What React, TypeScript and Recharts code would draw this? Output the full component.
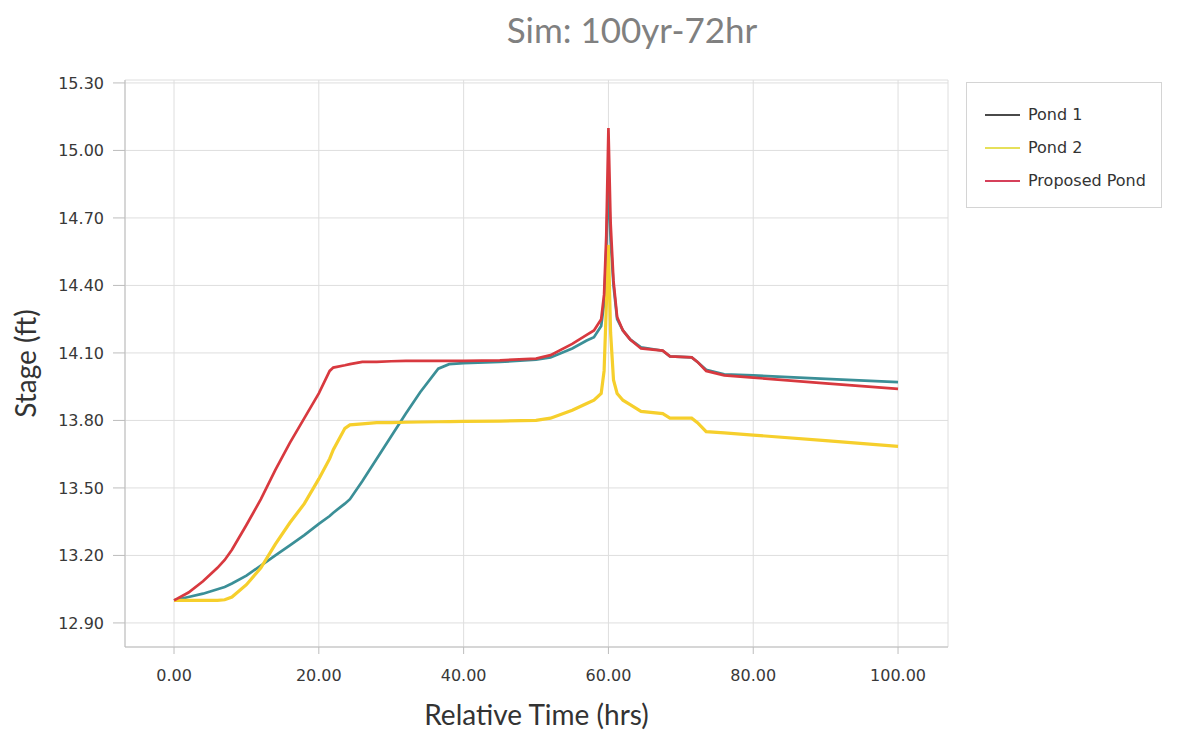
import React from "react";
import { LineChart, Line, XAxis, YAxis, CartesianGrid, Legend } from "recharts";

const TIME_HRS = [
  0, 2, 4, 6, 7, 8, 10, 12, 14, 16, 18, 20, 21.5, 22, 23.6, 24.3, 26, 28, 30, 32, 34, 36.5, 38, 40,
  45, 50, 52, 55, 57, 58, 59, 59.4, 59.7, 60, 60.3, 60.7, 61.2, 62, 63, 64.5, 67.5, 68.5, 71.5, 72.3,
  73.5, 76, 80, 90, 100,
];

const POND_1 = [
  13.0, 13.015, 13.03, 13.05, 13.06, 13.075,
  13.11, 13.155, 13.2, 13.245, 13.29, 13.34,
  13.375, 13.39, 13.43, 13.45, 13.53, 13.63,
  13.73, 13.83, 13.925, 14.03, 14.05, 14.055,
  14.06, 14.07, 14.08, 14.12, 14.155, 14.17,
  14.22, 14.32, 14.55, 14.9, 14.6, 14.4,
  14.25, 14.2, 14.16, 14.125, 14.11, 14.085,
  14.08, 14.06, 14.025, 14.005, 14.0, 13.985,
  13.97,
];

const POND_2 = [
  13.0, 13.0, 13.0, 13.0, 13.003, 13.015,
  13.07, 13.145, 13.25, 13.345, 13.43, 13.54,
  13.63, 13.67, 13.765, 13.78, 13.785, 13.79,
  13.79, 13.792, 13.793, 13.794, 13.795, 13.796,
  13.797, 13.8, 13.81, 13.845, 13.875, 13.89,
  13.92, 14.02, 14.3, 14.58, 14.19, 13.98,
  13.92, 13.89, 13.87, 13.84, 13.83, 13.81,
  13.81, 13.79, 13.75, 13.745, 13.735, 13.71,
  13.685,
];

const PROPOSED_POND = [
  13.0, 13.035, 13.085, 13.145, 13.18, 13.225,
  13.335, 13.45, 13.58, 13.7, 13.81, 13.92,
  14.02, 14.035, 14.045, 14.05, 14.06, 14.06,
  14.063, 14.065, 14.065, 14.065, 14.065, 14.065,
  14.067, 14.075, 14.09, 14.14, 14.18, 14.2,
  14.25, 14.36, 14.62, 15.1, 14.68, 14.42,
  14.26, 14.2, 14.16, 14.12, 14.11, 14.085,
  14.08, 14.06, 14.02, 14.0, 13.99, 13.965,
  13.94,
];

const X_TICKS = [0, 20, 40, 60, 80, 100];
const Y_TICKS = [12.9, 13.2, 13.5, 13.8, 14.1, 14.4, 14.7, 15.0, 15.3];

const SERIES_NAMES = ["Pond 1", "Pond 2", "Proposed Pond"];
const SERIES_COLORS = ["#3b8f97", "#f6cf2c", "#d8393f"];
const LEGEND_COLORS = ["#4a4a4a", "#e6e05a", "#d6405a"];

const data = TIME_HRS.map((t, i) => ({
  t,
  pond1: POND_1[i],
  pond2: POND_2[i],
  proposed: PROPOSED_POND[i],
}));

const tickStyle = { fontFamily: "DejaVu Sans", fontSize: 16, fill: "#383838" };

const renderLegend = () => (
  <div
    style={{
      border: "1px solid #d4d4d4",
      width: 196,
      height: 126,
      boxSizing: "border-box",
      paddingTop: 15,
      fontFamily: "DejaVu Sans",
      fontSize: 16,
      color: "#333",
      background: "#fff",
    }}
  >
    {SERIES_NAMES.map((name, i) => (
      <div key={name} style={{ display: "flex", alignItems: "center", height: 33 }}>
        <div style={{ marginLeft: 18, width: 35, borderTop: `2px solid ${LEGEND_COLORS[i]}` }} />
        <span style={{ marginLeft: 8, whiteSpace: "nowrap" }}>{name}</span>
      </div>
    ))}
  </div>
);

const XLabel = (props: any) => {
  const vb = props.viewBox;
  return (
    <text
      x={vb.x + vb.width / 2}
      y={vb.y + 78}
      textAnchor="middle"
      fontFamily="Lato"
      fontSize={28}
      fill="#333"
    >
      Relative Time (hrs)
    </text>
  );
};

const YLabel = (props: any) => {
  const vb = props.viewBox;
  const cx = 36;
  const cy = vb.y + vb.height / 2;
  return (
    <text
      x={cx}
      y={cy}
      textAnchor="middle"
      fontFamily="Lato"
      fontSize={28}
      fill="#333"
      transform={`rotate(-90 ${cx} ${cy})`}
    >
      Stage (ft)
    </text>
  );
};

export default function App() {
  return (
    <div style={{ position: "absolute", left: 0, top: 0, width: 1177, height: 733, background: "#fff" }}>
      <div
        style={{
          position: "absolute",
          left: 432,
          top: 12,
          width: 400,
          textAlign: "center",
          fontFamily: "Lato",
          fontSize: 35,
          lineHeight: "34px",
          color: "#808080",
          whiteSpace: "nowrap",
        }}
      >
        Sim: 100yr-72hr
      </div>
      <LineChart
        width={1177}
        height={733}
        data={data}
        margin={{ top: 80, right: 229, bottom: 0, left: 0 }}
      >
        <CartesianGrid stroke="#dedede" />
        <XAxis
          dataKey="t"
          type="number"
          domain={[-6.77, 106.9]}
          ticks={X_TICKS}
          tickFormatter={(v: number) => v.toFixed(2)}
          tick={tickStyle}
          tickSize={7}
          tickMargin={16}
          height={86}
          stroke="#bdbdbd"
          allowDataOverflow
          label={<XLabel />}
        />
        <YAxis
          type="number"
          domain={[12.793, 15.313]}
          ticks={Y_TICKS}
          tickFormatter={(v: number) => v.toFixed(2)}
          tick={tickStyle}
          tickSize={12}
          tickMargin={9}
          width={125}
          stroke="#bdbdbd"
          allowDataOverflow
          label={<YLabel />}
        />
        <Legend
          layout="horizontal"
          verticalAlign="middle"
          align="center"
          content={renderLegend}
          wrapperStyle={{ position: "absolute", left: 966, top: 82, width: 196, height: 126 }}
        />
        <Line
          type="linear"
          dataKey="pond1"
          name={SERIES_NAMES[0]}
          stroke={SERIES_COLORS[0]}
          strokeWidth={2.7}
          dot={false}
          isAnimationActive={false}
        />
        <Line
          type="linear"
          dataKey="pond2"
          name={SERIES_NAMES[1]}
          stroke={SERIES_COLORS[1]}
          strokeWidth={3.2}
          dot={false}
          isAnimationActive={false}
        />
        <Line
          type="linear"
          dataKey="proposed"
          name={SERIES_NAMES[2]}
          stroke={SERIES_COLORS[2]}
          strokeWidth={2.7}
          dot={false}
          isAnimationActive={false}
        />
      </LineChart>
    </div>
  );
}
